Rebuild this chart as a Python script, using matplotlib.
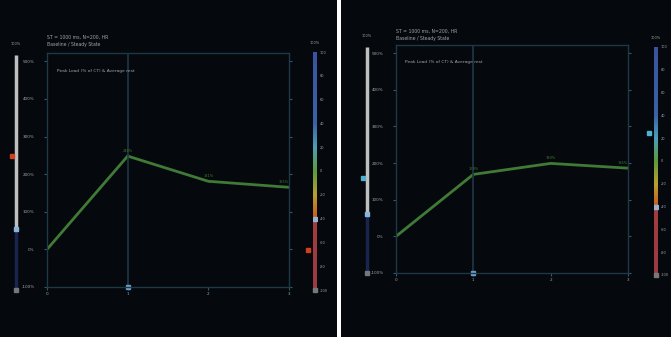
import numpy as np
import matplotlib
matplotlib.use('Agg')
import matplotlib.pyplot as plt
from matplotlib.colors import LinearSegmentedColormap

W, H = 671, 337

# data
x_cats = [0, 1, 2, 3]
x_labels = ['0', '1', '2', '3']
left_vals = [0, 248, 181, 165]
right_vals = [0, 169, 199, 186]
y_ticks = [-100, 0, 100, 200, 300, 400, 500]
y_ticklabels = ['-100%', '0%', '100%', '200%', '300%', '400%', '500%']
cbar_ticks = [-100, -80, -60, -40, -20, 0, 20, 40, 60, 80, 100]
left_gauge = 26       # filled (dark) part, %
right_gauge = 26
left_gauge_mark = 57
right_gauge_mark = 42
left_cbar_mark = -66
right_cbar_mark = 25
cbar_limit = -40
left_titles = ['ST = 1000 ms, N=200, HR', 'Baseline / Steady State']
right_titles = ['ST = 1000 ms, N=200, HR', 'Baseline / Steady State']
note = 'Peak Load (% of CT) & Average rest'

BG = '#05080c'
EDGE = '#1e3848'
TXT = '#a0a6ae'
GREEN = '#3f7a37'


def box(x0, y0, x1, y1):
    return [x0 / W, 1 - y1 / H, (x1 - x0) / W, (y1 - y0) / H]


fig = plt.figure(figsize=(W / 100, H / 100), dpi=100)
fig.patch.set_facecolor('white')

for b in [box(0, 0, 337, 337), box(341, 0, 671, 337)]:
    bg = fig.add_axes(b)
    bg.set_facecolor(BG)
    bg.set_xticks([])
    bg.set_yticks([])
    for s in bg.spines.values():
        s.set_visible(False)

cmap = LinearSegmentedColormap.from_list('cb', [
    (0.0, '#9a3a42'), (0.29, '#a33c3c'), (0.31, '#c8601e'), (0.40, '#b8a030'),
    (0.50, '#5e9a3a'), (0.60, '#4aa0b8'), (0.70, '#3a62a8'), (1.0, '#3a52a0')])


def panel(main_box, gauge_box, cbar_box, vals, gauge_val, gauge_mark, cbar_mark,
          titles, title_off, note_xy, mark_col):
    ax = fig.add_axes(main_box)
    ax.set_facecolor('none')
    ax.plot(x_cats, vals, color=GREEN, lw=2, solid_joinstyle='miter')
    ax.axvline(x_cats[1], color=EDGE, lw=1.2)
    for i, v in enumerate(vals[1:], start=1):
        ha = 'right' if i == len(vals) - 1 else 'center'
        ax.annotate(f'{v}%', (x_cats[i], v), xytext=(0, 2.5), textcoords='offset points',
                    ha=ha, va='bottom', fontsize=2.5, color=GREEN)
    ax.set_xlim(x_cats[0], x_cats[-1])
    ax.set_ylim(-100, 522)
    ax.set_yticks(y_ticks)
    ax.set_yticklabels(y_ticklabels)
    ax.set_xticks(x_cats)
    ax.set_xticklabels(x_labels)
    ax.tick_params(colors='#2f5a78', labelcolor=TXT, labelsize=3, length=2, width=0.8,
                   pad=7)
    ax.tick_params(axis='x', pad=1.5)
    ax.tick_params(right=True)
    for s in ax.spines.values():
        s.set_color(EDGE)
        s.set_linewidth(1)
    ax.plot([x_cats[1]], [-100], marker='s', ms=3.5, color='#6a9cc8', clip_on=False)
    ax.text(0.0, 1.0 + title_off[0], titles[0], transform=ax.transAxes, fontsize=3.3,
            color=TXT, va='center')
    ax.text(0.0, 1.0 + title_off[1], titles[1], transform=ax.transAxes, fontsize=3.3,
            color=TXT, va='center')
    ax.text(note_xy[0], note_xy[1], note, transform=ax.transAxes, fontsize=3.2, color=TXT)

    g = fig.add_axes(gauge_box)
    g.set_xlim(-1, 1)
    g.set_ylim(0, 100)
    g.axis('off')
    g.vlines(0, gauge_val, 100, color='#c0c0c0', lw=2.5)
    g.vlines(0, 0, gauge_val, color='#1a2450', lw=2.5)
    g.plot([0], [gauge_val], marker='s', ms=3, color='#8ab4dc')
    g.plot([-0.9], [gauge_mark], marker='s', ms=3, color=mark_col, clip_on=False)
    g.plot([0], [0], marker='s', ms=2.5, color='#777777', clip_on=False)
    g.text(0, 104, '100%', ha='center', va='bottom', fontsize=2.5, color=TXT)

    c = fig.add_axes(cbar_box)
    grad = np.linspace(-100, 100, 256).reshape(-1, 1)
    c.imshow(grad, aspect='auto', cmap=cmap, origin='lower', extent=[0, 1, -100, 100])
    c.set_xlim(0, 1)
    c.set_ylim(-100, 100)
    c.set_xticks([])
    c.yaxis.tick_right()
    c.set_yticks(cbar_ticks)
    c.set_yticklabels([str(t) for t in cbar_ticks])
    c.tick_params(colors=TXT, labelsize=2.5, length=0, pad=2)
    for s in c.spines.values():
        s.set_visible(False)
    c.plot([0.5], [cbar_limit], marker='s', ms=2.5, color='#9ab0d0')
    c.plot([-1.2], [cbar_mark], marker='s', ms=3, color=mark_col, clip_on=False)
    c.plot([0.5], [-100], marker='s', ms=2.5, color='#777777', clip_on=False)
    c.text(0.5, 106, '100%', ha='center', va='bottom', fontsize=2.5, color=TXT)


panel(box(47, 53, 289, 287), box(12, 55, 20, 290), box(313, 52, 317, 290),
      left_vals, left_gauge, left_gauge_mark, left_cbar_mark,
      left_titles, (0.068, 0.036), (0.04, 0.92), '#d04020')
panel(box(396, 45, 628, 273), box(363, 47, 371, 273), box(654, 47, 658, 275),
      right_vals, right_gauge, right_gauge_mark, right_cbar_mark,
      right_titles, (0.06, 0.03), (0.04, 0.92), '#50b0d0')

fig.savefig('out.png', dpi=100, facecolor=fig.get_facecolor())
